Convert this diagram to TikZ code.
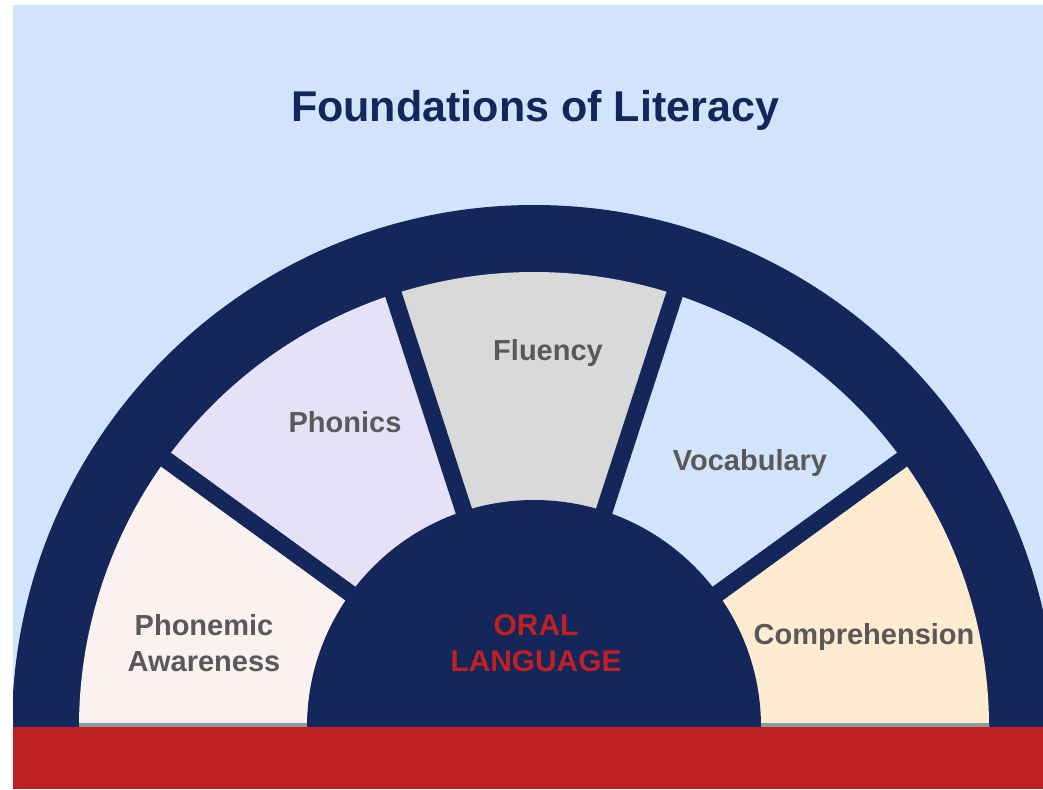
\documentclass[tikz,border=0pt]{standalone}
\usepackage{fontspec}
\setmainfont{Liberation Sans}
\usetikzlibrary{positioning}
\definecolor{navy}{HTML}{13275B}
\definecolor{skyblue}{HTML}{D2E4FC}
\definecolor{brickred}{HTML}{C01F24}
\definecolor{blush}{HTML}{FCF1F1}
\definecolor{lavender}{HTML}{E7E1F7}
\definecolor{greyish}{HTML}{D9D9D9}
\definecolor{peach}{HTML}{FEEBD0}
\definecolor{labelgray}{HTML}{595959}
\definecolor{rimgray}{HTML}{8A9BA0}

\begin{document}
\begin{tikzpicture}[x=0.02cm,y=0.02cm,
  lbl/.style={text=labelgray,align=center,font=\bfseries\fontsize{16.5}{20.5}\selectfont},
  gapbar/.style={draw=navy,line width=0.34cm}]
\useasboundingbox (0,0) rectangle (1043,789);
\fill[white] (0,0) rectangle (1043,789);
\fill[skyblue] (13,0) rectangle (1043,784);
\coordinate (c) at (534,62);
\begin{scope}
\clip (13,0) rectangle (1043,784);
% outer ring
\fill[navy] (c) ++(0:522) arc[start angle=0,end angle=180,radius=522] -- cycle;
% the five blocks
\foreach \a/\col in {0/peach,36/skyblue,72/greyish,108/lavender,144/blush}
  \fill[\col] (c) -- ++(\a:455) arc[start angle=\a,delta angle=36,radius=455] -- cycle;
\fill[rimgray] (c) ++(-455,0) rectangle ++(910,4);
\foreach \a in {36,72,108,144}
  \draw[gapbar] (c) -- ++(\a:462);
% oral language core
\fill[navy] (c) ++(0:227) arc[start angle=0,end angle=180,radius=227] -- cycle;
\end{scope}
\fill[brickred] (13,0) rectangle (1043,62);
\node[text=navy,font=\bfseries\fontsize{24.5}{30}\selectfont] (title) at (535,679) {Foundations of Literacy};
\node[lbl] (phonemic) at (204,146) {Phonemic\\Awareness};
\node[lbl] (phonics) at (345,367) {Phonics};
\node[lbl] (fluency) at (548,436) {Fluency};
\node[lbl] (vocab) at (750,326) {Vocabulary};
\node[lbl] (compr) at (864,152) {Comprehension};
\node[lbl,text=brickred,font=\bfseries\fontsize{17}{20.5}\selectfont] (oral) at (536,146) {ORAL\\LANGUAGE};
\end{tikzpicture}
\end{document}
